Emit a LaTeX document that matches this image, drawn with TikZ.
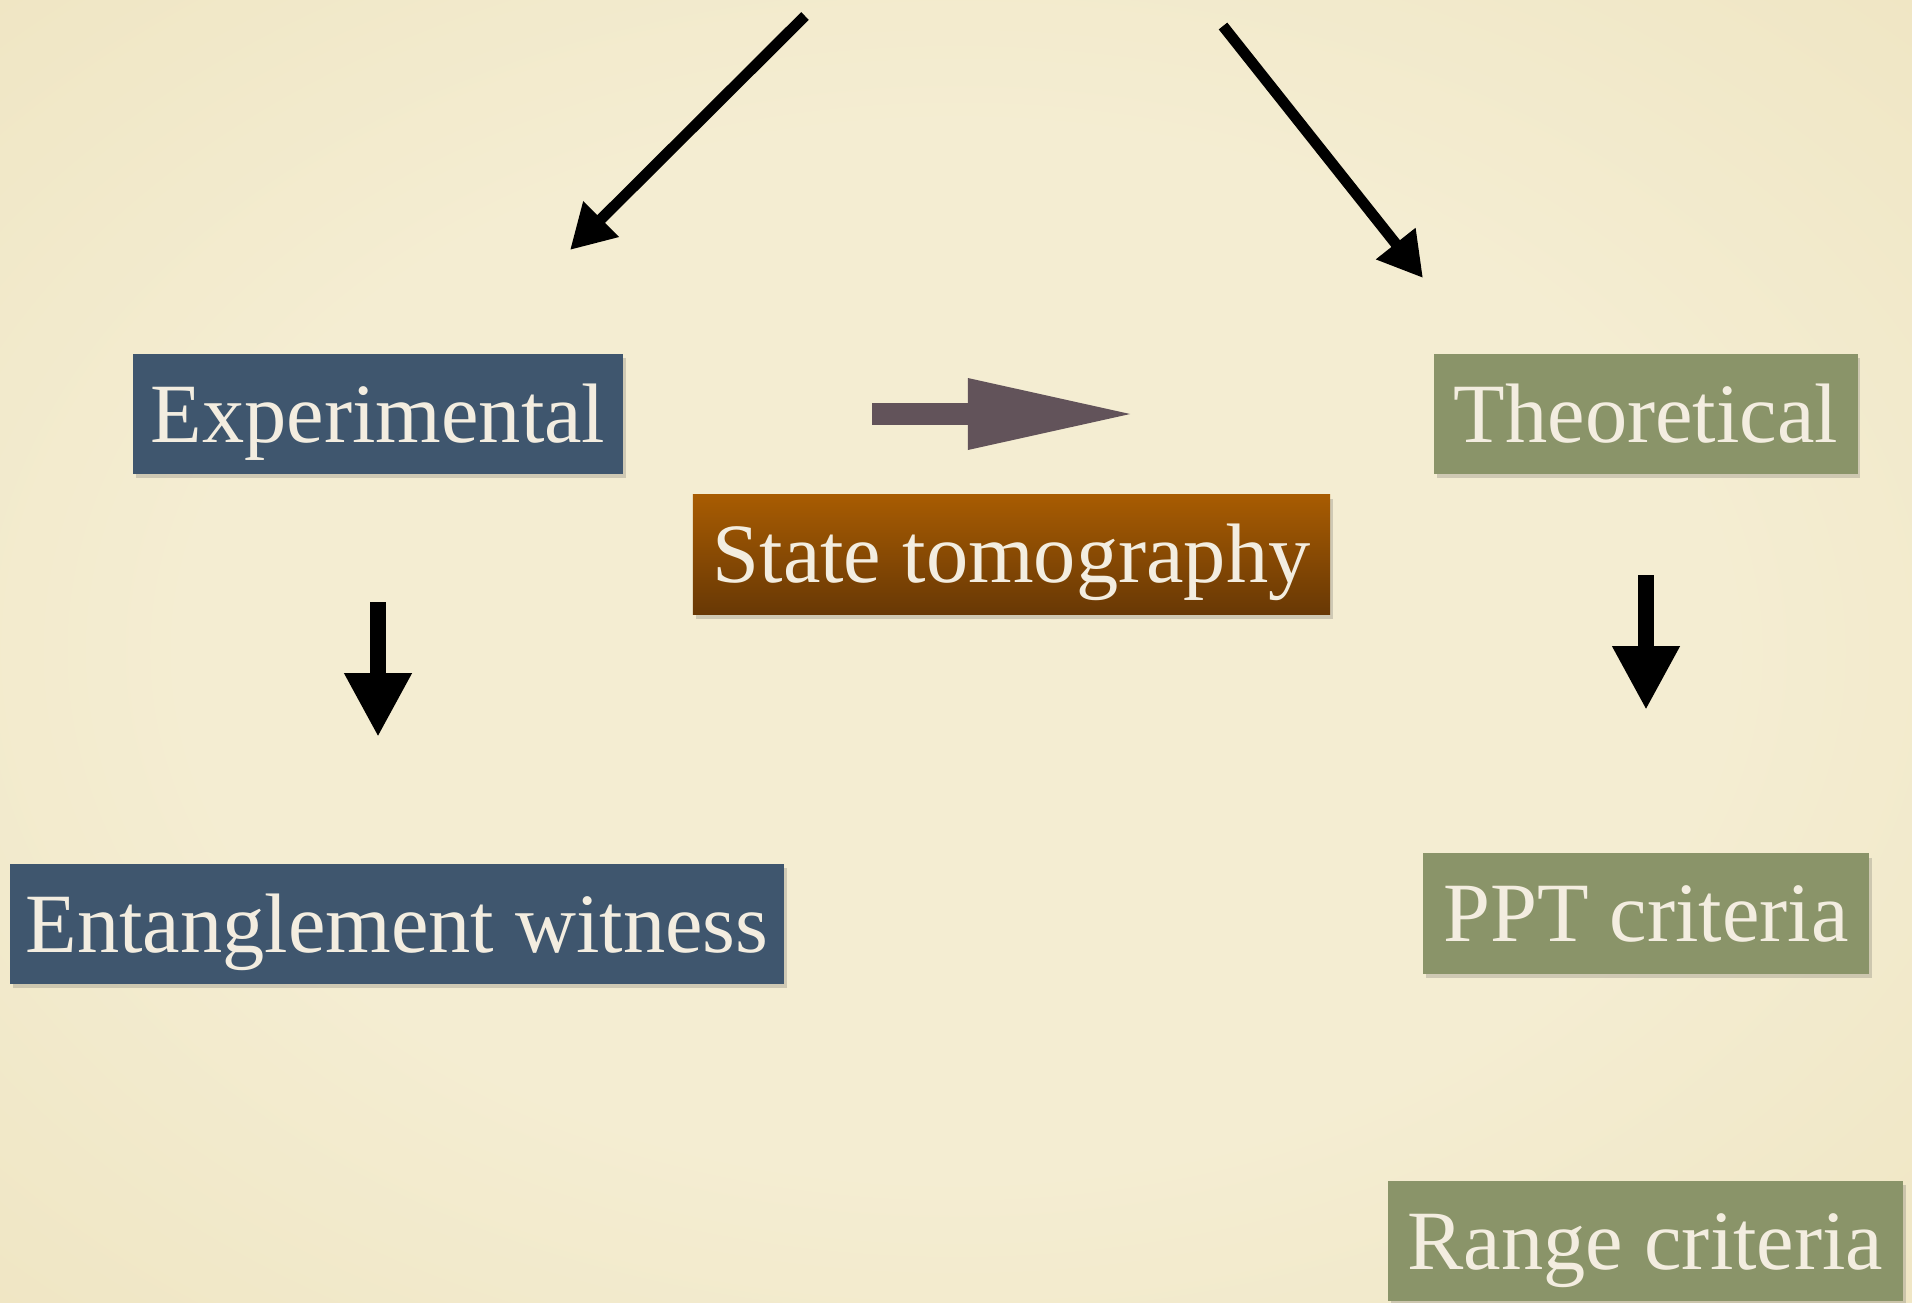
\documentclass[tikz,border=0pt]{standalone}
\usepackage{fontspec}
\setmainfont{Liberation Serif}
\usetikzlibrary{arrows.meta,shadows}

\definecolor{paperlight}{HTML}{F4EDD2}
\definecolor{paperdark}{HTML}{E5D5A3}
\definecolor{expblue}{HTML}{3F566E}
\definecolor{theogreen}{HTML}{8A9469}
\definecolor{tomotop}{HTML}{A85C02}
\definecolor{tomobottom}{HTML}{683805}
\definecolor{fatgrey}{HTML}{62535A}
\definecolor{cardtext}{HTML}{F3EDE0}

\pgfdeclareradialshading{paper}{\pgfpoint{0bp}{0bp}}{color(0bp)=(paperlight); color(20bp)=(paperlight); color(72bp)=(paperdark)}

\tikzset{
  card/.style={rectangle, inner sep=0pt, minimum height=1.2cm,
    text height=16pt, text depth=0pt, text=cardtext,
    font=\fontsize{24}{28}\selectfont,
    drop shadow={shadow xshift=0.8pt, shadow yshift=-1.2pt,
      opacity=0.22, fill=black!70}},
  expcard/.style={card, fill=expblue},
  theocard/.style={card, fill=theogreen},
  tomocard/.style={card, top color=tomotop, bottom color=tomobottom},
  thinarrow/.style={draw, line width=3.1pt,
    -{Triangle[length=12.5pt, width=13.5pt]}},
  blockarrow/.style={draw, line width=4.5pt,
    -{Triangle[length=18.2pt, width=18pt]}},
  fatarrow/.style={draw=fatgrey, line width=6.3pt,
    -{Triangle[length=48.4pt, width=18.5pt]}}
}

\begin{document}
\begin{tikzpicture}[x=0.01cm, y=-0.01cm]
  \shade[shading=paper] (0,0) rectangle (1912,1302);
  \useasboundingbox (0,0) rectangle (1912,1302);

  \begin{scope}
    \node[expcard, minimum width=4.9cm] (exp) at (378,414) {Experimental};
    \node[theocard, minimum width=4.23cm] (theo) at (1646,414) {Theoretical};
    \node[tomocard, minimum width=6.37cm] (tomo) at (1011.5,554.5) {State tomography};
    \node[expcard, minimum width=7.74cm] (witness) at (397,924) {Entanglement witness};
    \node[theocard, minimum width=4.46cm] (ppt) at (1646,913.5) {PPT criteria};
    \node[theocard, minimum width=5.15cm] (range) at (1645.5,1241) {Range criteria};
  \end{scope}

  \coordinate (topl) at (805,16);
  \coordinate (expin) at (570,250);
  \coordinate (topr) at (1223,26);
  \coordinate (theoin) at (1423,278);
  \coordinate (expout) at (378,602);
  \coordinate (witnessin) at (378,737);
  \coordinate (theoout) at (1646,575);
  \coordinate (pptin) at (1646,710);
  \coordinate (fatstart) at (872,414);
  \coordinate (fatend) at (1138,414);

  \begin{scope}[every edge/.style={draw}]
    \path (topl) edge[thinarrow] (expin);
    \path (topr) edge[thinarrow] (theoin);
    \path (expout) edge[blockarrow] (witnessin);
    \path (theoout) edge[blockarrow] (pptin);
    \path (fatstart) edge[fatarrow] (fatend);
  \end{scope}
\end{tikzpicture}
\end{document}
